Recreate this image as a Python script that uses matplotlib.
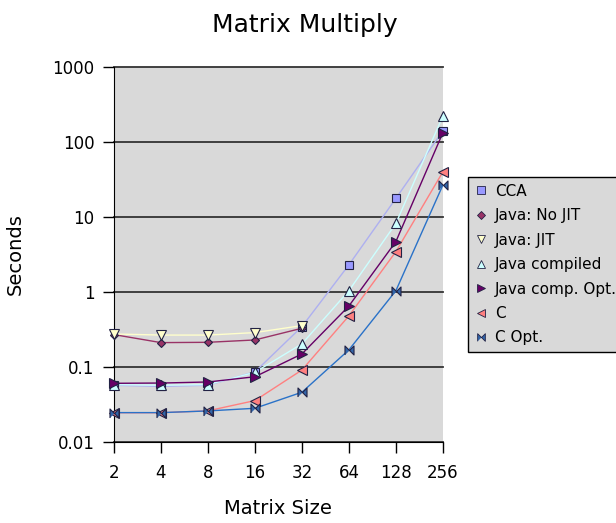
import matplotlib.pyplot as plt
from matplotlib.lines import Line2D

# Matrix sizes (x) and timings in seconds per implementation
sizes = [2, 4, 8, 16, 32, 64, 128, 256]
size_labels = ["2", "4", "8", "16", "32", "64", "128", "256"]

cca = [0.057, 0.055, 0.057, 0.086, 0.345, 2.3, 17.7, 141]
java_nojit = [0.27, 0.211, 0.213, 0.229, 0.328]
java_jit = [0.275, 0.266, 0.266, 0.287, 0.356]
java_compiled = [0.058, 0.057, 0.058, 0.085, 0.203, 1.04, 8.2, 222]
java_comp_opt = [0.0605, 0.061, 0.063, 0.074, 0.149, 0.65, 4.7, 133]
c_plain = [0.0245, 0.0245, 0.026, 0.0356, 0.091, 0.48, 3.45, 40]
c_opt = [0.0246, 0.0246, 0.0259, 0.0281, 0.046, 0.169, 1.04, 26.7]

# bowtie marker for "C Opt."
bowtie = [(-1, -1), (-1, 1), (0, 0), (1, 1), (1, -1), (0, 0)]

series = [
    # label, values, marker, face, line colour, marker size
    ("CCA", cca, "s", "#9999ff", "#aeb0f0", 6),
    ("Java: No JIT", java_nojit, "D", "#993366", "#993366", 4.5),
    ("Java: JIT", java_jit, "v", "#ffffcc", "#ffffcc", 6.5),
    ("Java compiled", java_compiled, "^", "#ccffff", "#ccffff", 6.5),
    ("Java comp. Opt.", java_comp_opt, ">", "#660066", "#660066", 6.5),
    ("C", c_plain, "<", "#ff8080", "#ff8080", 6.5),
    ("C Opt.", c_opt, bowtie, "#3366aa", "#2a72c8", 6.5),
]

fig = plt.figure(figsize=(6.16, 5.23), dpi=100)
ax = fig.add_axes([0.185, 0.155, 0.534, 0.717])
ax.set_facecolor("#d9d9d9")

for label, vals, mk, face, lc, ms in series:
    ax.plot(sizes[:len(vals)], vals, color=lc, lw=1.0, zorder=3)
for label, vals, mk, face, lc, ms in series:
    ax.plot(sizes[:len(vals)], vals, linestyle="none", marker=mk,
            markersize=ms, markerfacecolor=face, markeredgecolor="#222244",
            markeredgewidth=0.8, zorder=4, clip_on=False)

ax.set_yscale("log")
ax.set_xscale("log", base=2)
ax.set_xlim(2, 256)
ax.set_ylim(0.01, 1000)
ax.set_xticks(sizes)
ax.set_xticklabels(size_labels)
ax.minorticks_off()
ax.set_yticks([0.01, 0.1, 1, 10, 100, 1000])
ax.set_yticklabels(["0.01", "0.1", "1", "10", "100", "1000"])
ax.yaxis.grid(True, color="#333333", lw=1.3)
ax.set_axisbelow(True)
for gl in ax.yaxis.get_gridlines():
    gl.set_clip_on(False)
ax.tick_params(axis="both", direction="out", length=8, width=1,
               labelsize=12, color="black", pad=6)
ax.tick_params(axis="x", pad=8)
for s in ["top", "right"]:
    ax.spines[s].set_visible(False)
ax.spines["left"].set_color("black")
ax.spines["bottom"].set_color("black")

ax.set_xlabel("Matrix Size", fontsize=14, labelpad=12)
ax.set_ylabel("Seconds", fontsize=14, labelpad=20)
fig.text(0.495, 0.952, "Matrix Multiply", fontsize=18, ha="center", va="center")

handles = [Line2D([], [], linestyle="none", marker=mk, markersize=ms * 0.85,
                  markerfacecolor=face, markeredgecolor="#222244",
                  markeredgewidth=0.6)
           for label, vals, mk, face, lc, ms in series]
leg = fig.legend(handles, [s[0] for s in series], loc="upper left",
                 bbox_to_anchor=(0.76, 0.662), fontsize=11, frameon=True,
                 fancybox=False, facecolor="#d9d9d9", edgecolor="black",
                 handlelength=0.8, handletextpad=0.5, labelspacing=0.62,
                 borderpad=0.45, borderaxespad=0, framealpha=1)
leg.get_frame().set_linewidth(1.0)

fig.savefig("out.png", dpi=100)
